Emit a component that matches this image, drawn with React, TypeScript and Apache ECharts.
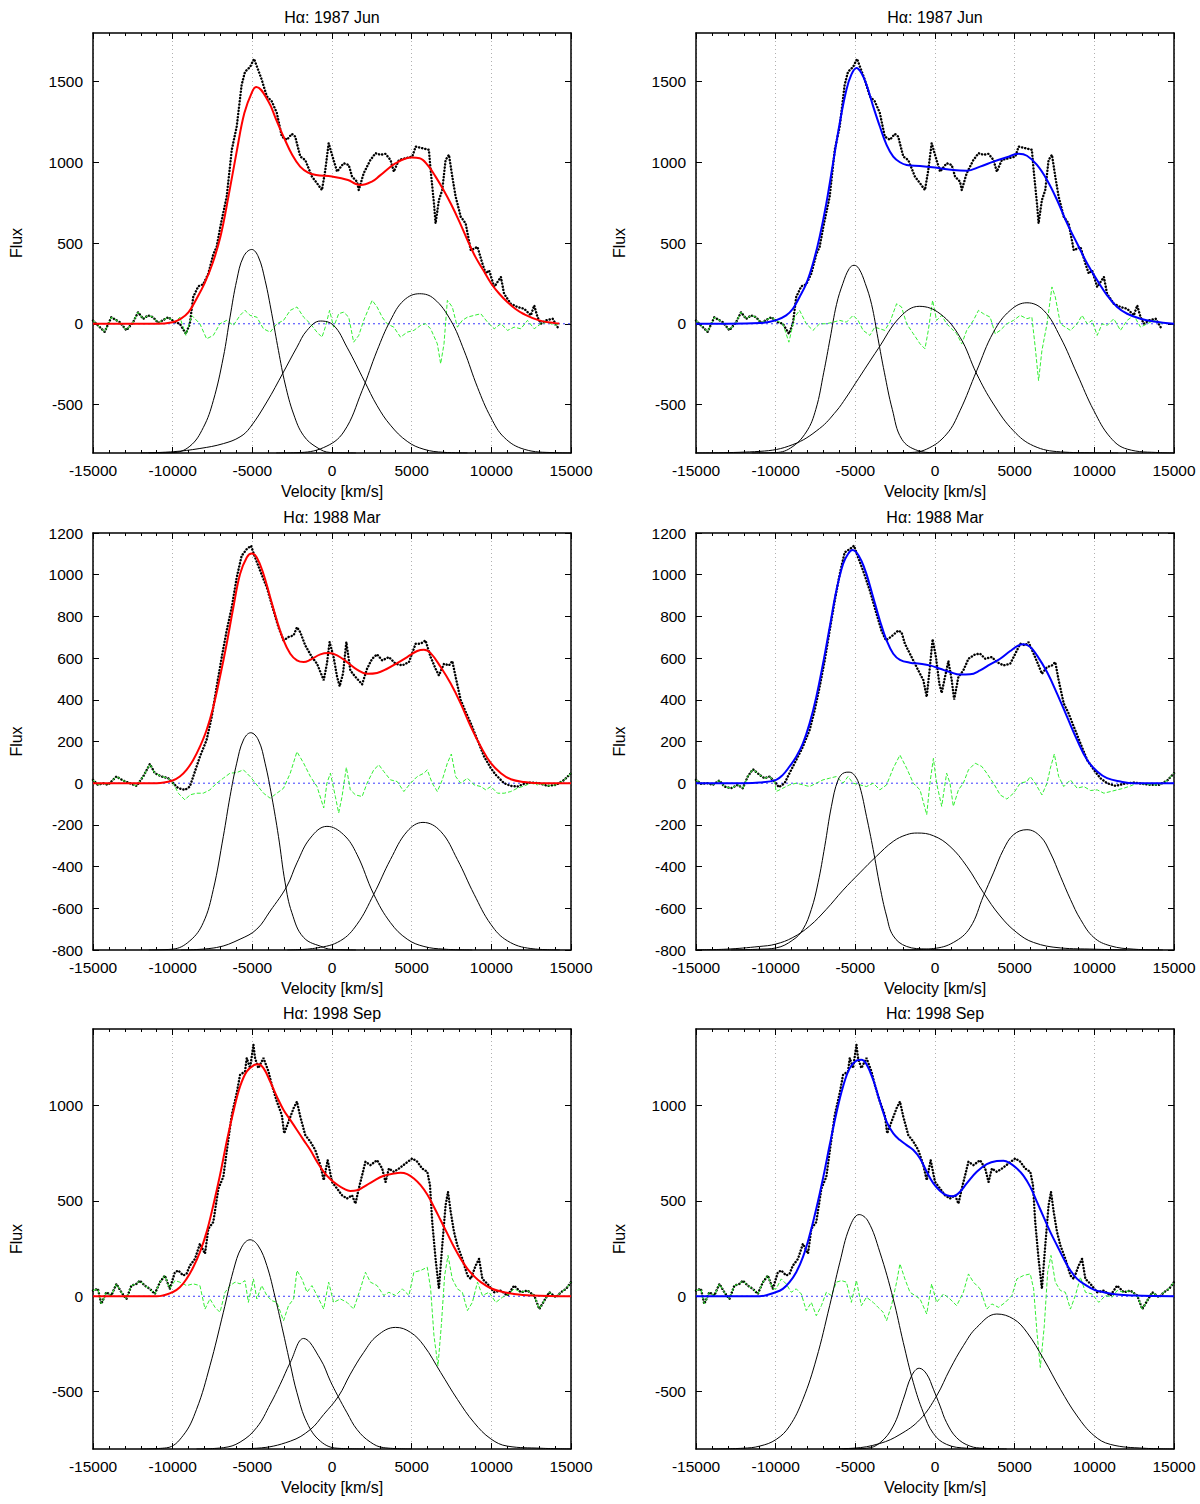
import { useEffect, useRef } from "react";
import * as echarts from "echarts";

const OBS_87 = [
  [-15000, 20], [-14270, -50], [-13850, 40], [-13320, 10], [-12900, -40], [-12480, 10], [-12170, 72], [-11850, 30],
  [-11540, 52], [-11220, 40], [-10910, 5], [-10280, 41], [-9860, 10], [-9550, 0], [-9170, -62], [-8920, 0],
  [-8710, 166], [-8390, 232], [-8080, 244], [-7760, 311], [-7450, 430], [-7240, 476], [-7010, 600], [-6610, 787],
  [-6290, 1077], [-5980, 1221], [-5670, 1480], [-5460, 1560], [-5140, 1590], [-4890, 1640], [-4720, 1594], [-4410, 1511],
  [-4090, 1408], [-3780, 1377], [-3460, 1304], [-3150, 1159], [-2830, 1139], [-2520, 1176], [-2310, 1159], [-1990, 1035],
  [-1680, 1014], [-1260, 911], [-940, 870], [-630, 828], [-420, 952], [-210, 1118], [0, 1046], [320, 942],
  [730, 994], [1050, 983], [1260, 911], [1570, 880], [1680, 828], [1990, 932], [2410, 1014], [2730, 1056],
  [3040, 1046], [3360, 1052], [3670, 1014], [3880, 942], [4200, 1014], [4620, 1025], [5040, 1035], [5250, 1097],
  [5670, 1087], [6080, 1077], [6190, 952], [6400, 745], [6500, 621], [6710, 766], [6920, 828], [7130, 1014],
  [7340, 1046], [7550, 911], [7760, 787], [8080, 663], [8390, 621], [8710, 455], [9130, 476], [9440, 373],
  [9650, 311], [9860, 331], [10180, 228], [10600, 290], [10800, 186], [11220, 124], [11640, 104], [12060, 93],
  [12480, 52], [12690, 114], [12900, 41], [13110, 0], [13430, 21], [13850, 31], [14160, -21],
];

const OBS_88_L = [
  [-15000, 16], [-14690, -8], [-14370, 0], [-14060, -8], [-13530, 32], [-13110, 13], [-12690, 0], [-12270, -13],
  [-11850, 32], [-11430, 92], [-11120, 48], [-10700, 32], [-10280, 24], [-9970, 0], [-9650, -24], [-9230, -32],
  [-8920, -16], [-8710, 32], [-8290, 127], [-7870, 207], [-7550, 318], [-7240, 462], [-6920, 605], [-6610, 732],
  [-6290, 844], [-5980, 987], [-5670, 1091], [-5350, 1123], [-5080, 1139], [-4830, 1083], [-4510, 1019], [-4090, 939],
  [-3670, 828], [-3360, 748], [-3040, 685], [-2730, 701], [-2410, 709], [-2200, 748], [-1990, 724], [-1680, 661],
  [-1260, 605], [-940, 573], [-520, 494], [-320, 573], [-150, 677], [100, 605], [320, 510], [480, 465],
  [690, 525], [900, 677], [1150, 541], [1470, 510], [1890, 474], [2200, 549], [2520, 597], [2830, 618],
  [3150, 589], [3570, 605], [3990, 573], [4410, 565], [4830, 581], [5250, 669], [5560, 669], [5870, 685],
  [6190, 605], [6500, 549], [6710, 517], [7030, 573], [7340, 565], [7550, 586], [7760, 510], [8080, 398],
  [8390, 342], [8710, 287], [9130, 207], [9550, 127], [9970, 72], [10280, 40], [10800, 0], [11220, -13],
  [11640, -16], [12060, -3], [12480, 3], [13010, 0], [13530, -13], [14060, -8], [14580, 16], [15000, 48],
];

const OBS_88_R = [
  [-15000, 16], [-14690, -3], [-14270, 0], [-13950, -8], [-13530, 13], [-13220, -16], [-12800, -24], [-12380, -8],
  [-12060, -24], [-11750, 32], [-11430, 67], [-11010, 40], [-10700, 24], [-10390, 32], [-10070, 8], [-9800, -19],
  [-9440, 0], [-9130, 48], [-8710, 111], [-8290, 175], [-7870, 255], [-7550, 350], [-7240, 462], [-6920, 589],
  [-6610, 732], [-6290, 876], [-5980, 1003], [-5670, 1107], [-5350, 1123], [-5080, 1139], [-4830, 1083], [-4510, 1019],
  [-4090, 924], [-3670, 812], [-3360, 732], [-3080, 685], [-2730, 704], [-2310, 732], [-2100, 724], [-1890, 669],
  [-1470, 605], [-1050, 541], [-730, 494], [-520, 414], [-320, 557], [-150, 691], [60, 605], [270, 478],
  [420, 433], [630, 510], [840, 586], [1050, 494], [1200, 401], [1470, 510], [1780, 541], [2100, 597],
  [2520, 618], [2830, 621], [3150, 597], [3570, 605], [3880, 581], [4300, 565], [4720, 573], [5040, 621],
  [5350, 669], [5660, 661], [5870, 677], [6190, 621], [6500, 565], [6710, 525], [7030, 557], [7340, 565],
  [7550, 581], [7760, 494], [8080, 382], [8390, 334], [8710, 271], [9130, 191], [9550, 111], [9970, 64],
  [10380, 24], [10800, 0], [11330, -13], [11850, -3], [12480, 3], [13010, -3], [13530, -8], [14060, -8],
  [14580, 13], [15000, 48],
];

const OBS_98 = [
  [-15000, 30], [-14690, 39], [-14480, -40], [-14160, 21], [-13850, 4], [-13530, 65], [-13220, 21], [-12900, -14],
  [-12590, 56], [-12270, 65], [-12060, 82], [-11750, 56], [-11430, 39], [-11120, 12], [-10800, 74], [-10490, 109],
  [-10180, 39], [-9860, 126], [-9650, 135], [-9340, 109], [-9130, 117], [-8920, 161], [-8600, 196], [-8290, 275],
  [-7970, 223], [-7760, 354], [-7450, 389], [-7130, 564], [-6820, 626], [-6610, 757], [-6290, 950], [-5980, 1064],
  [-5770, 1160], [-5460, 1178], [-5350, 1248], [-5140, 1195], [-4930, 1318], [-4830, 1248], [-4620, 1195], [-4300, 1248],
  [-3990, 1178], [-3780, 1108], [-3460, 1020], [-3150, 950], [-3000, 853], [-2730, 914], [-2410, 985], [-2200, 1020],
  [-1990, 941], [-1680, 845], [-1360, 810], [-1050, 766], [-730, 687], [-520, 608], [-270, 713], [0, 599],
  [320, 564], [630, 529], [940, 512], [1260, 529], [1470, 485], [1680, 564], [1890, 634], [2100, 705],
  [2410, 687], [2830, 713], [3150, 669], [3360, 599], [3570, 669], [3880, 652], [4200, 669], [4620, 696],
  [5040, 722], [5350, 705], [5660, 669], [5980, 652], [6150, 582], [6290, 389], [6500, 196], [6710, 39],
  [6920, 266], [7130, 477], [7280, 547], [7450, 442], [7660, 336], [7870, 266], [8180, 196], [8500, 109],
  [8710, 91], [9020, 161], [9230, 196], [9440, 91], [9760, 65], [10180, 21], [10600, 30], [11010, 4],
  [11430, 56], [11850, 21], [12270, 30], [12690, 4], [13010, -67], [13320, -23], [13640, 21], [14060, -5],
  [14370, 21], [14690, 39], [15000, 74],
];

// fitted profiles
const FIT_87_L = [
  [-15000, 0], [-11000, 0], [-10000, 10], [-9500, 30], [-9000, 72], [-8500, 155], [-8000, 250], [-7500, 373],
  [-7000, 540], [-6500, 787], [-6000, 1056], [-5500, 1304], [-5000, 1439], [-4750, 1466], [-4000, 1377], [-3500, 1263],
  [-3000, 1149], [-2500, 1046], [-2000, 973], [-1500, 936], [-1000, 921], [0, 911], [1000, 890], [1500, 865],
  [1800, 859], [2500, 880], [3000, 917], [4000, 994], [5000, 1029], [5500, 1025], [6000, 983], [6500, 911],
  [7000, 828], [7500, 735], [8000, 631], [8500, 518], [9000, 414], [9500, 331], [10000, 248], [10500, 186],
  [11000, 135], [11500, 93], [12000, 62], [13000, 21], [14000, 4], [14270, 2],
];
const FIT_87_R = [
  [-15000, 0], [-13000, 0], [-11000, 4], [-10000, 21], [-9340, 52], [-8920, 93], [-8500, 166], [-8080, 248],
  [-7660, 373], [-7240, 538], [-6820, 745], [-6400, 994], [-5980, 1242], [-5560, 1449], [-5250, 1542], [-4930, 1584],
  [-4620, 1553], [-4300, 1480], [-3880, 1346], [-3460, 1221], [-3040, 1108], [-2620, 1035], [-2200, 1000], [-1780, 983],
  [-940, 977], [0, 967], [1150, 952], [1990, 948], [2830, 973], [3670, 1004], [4510, 1031], [5250, 1052],
  [5770, 1040], [6400, 983], [7030, 890], [7660, 766], [8290, 621], [8920, 497], [9550, 373], [10180, 269],
  [10800, 176], [11430, 104], [12060, 62], [12900, 31], [13740, 14], [15000, 0],
];
const FIT_88_L = [
  [-15000, 0], [-11000, 0], [-10000, 13], [-9550, 32], [-9130, 64], [-8710, 111], [-8290, 175], [-7870, 255],
  [-7450, 366], [-7030, 510], [-6610, 669], [-6190, 844], [-5770, 1003], [-5350, 1083], [-5040, 1102], [-4720, 1083],
  [-4300, 1003], [-3880, 892], [-3460, 780], [-3040, 685], [-2620, 621], [-2200, 589], [-1780, 581], [-1360, 592],
  [-730, 618], [-210, 624], [320, 613], [940, 581], [1570, 545], [2200, 525], [2830, 529], [3460, 549],
  [4090, 576], [4720, 605], [5350, 634], [5770, 640], [6190, 624], [6820, 557], [7450, 478], [8080, 382],
  [8710, 271], [9340, 175], [9970, 96], [10600, 48], [11220, 19], [12060, 6], [13110, 0], [15000, 0],
];
const FIT_88_R = [
  [-15000, 0], [-12000, 0], [-11010, 3], [-9970, 16], [-9550, 40], [-9130, 80], [-8710, 127], [-8290, 191],
  [-7870, 287], [-7450, 414], [-7030, 573], [-6610, 748], [-6190, 924], [-5770, 1051], [-5460, 1099], [-5180, 1118],
  [-4930, 1107], [-4620, 1067], [-4300, 1003], [-3880, 892], [-3460, 780], [-3040, 685], [-2620, 621], [-2200, 592],
  [-1570, 578], [-940, 573], [-320, 565], [320, 549], [940, 533], [1570, 521], [2200, 522], [2830, 541],
  [3460, 570], [4090, 597], [4720, 634], [5250, 661], [5560, 666], [5980, 653], [6400, 613], [7030, 533],
  [7660, 430], [8290, 318], [8920, 207], [9550, 111], [10180, 56], [10800, 24], [11640, 8], [12480, 0], [15000, 0],
];
const FIT_98_L = [
  [-15000, 0], [-11000, 0], [-10010, 21], [-9550, 47], [-9130, 91], [-8710, 152], [-8290, 231], [-7870, 336],
  [-7450, 477], [-7030, 634], [-6610, 810], [-6190, 967], [-5770, 1099], [-5350, 1178], [-4930, 1209], [-4620, 1216],
  [-4300, 1195], [-3880, 1125], [-3460, 1046], [-3040, 976], [-2620, 924], [-2200, 871], [-1780, 818], [-1360, 766],
  [-940, 705], [-520, 652], [-100, 613], [320, 585], [730, 564], [1150, 552], [1570, 555], [1990, 573],
  [2620, 605], [3250, 631], [3880, 643], [4300, 647], [4720, 640], [5140, 617], [5560, 582], [5980, 533],
  [6400, 468], [6820, 398], [7240, 328], [7660, 258], [8080, 196], [8500, 144], [8920, 105], [9340, 74],
  [9970, 42], [10600, 25], [11430, 12], [12480, 4], [15000, 0],
];
const FIT_98_R = [
  [-15000, 0], [-11000, 0], [-10010, 21], [-9550, 39], [-9130, 74], [-8710, 126], [-8290, 205], [-7870, 319],
  [-7450, 459], [-7030, 617], [-6610, 792], [-6190, 959], [-5770, 1099], [-5350, 1195], [-4930, 1234], [-4620, 1239],
  [-4300, 1216], [-3880, 1134], [-3460, 1020], [-3040, 915], [-2620, 853], [-2200, 818], [-1780, 792], [-1360, 766],
  [-940, 722], [-520, 652], [-100, 591], [320, 552], [730, 529], [1150, 524], [1570, 547], [1990, 591],
  [2620, 652], [3250, 692], [3880, 708], [4300, 710], [4720, 696], [5140, 669], [5560, 631], [5980, 573],
  [6400, 494], [6820, 415], [7240, 336], [7660, 266], [8080, 196], [8500, 135], [8920, 91], [9340, 65],
  [9970, 35], [10600, 21], [11430, 9], [12480, 4], [15000, 0],
];

// gaussian components (drawn offset by -800)
const G1_87_L = [
  [-11500, -800], [-10000, -798], [-8920, -758], [-8080, -643], [-7450, -476], [-6820, -207], [-6400, 41], [-5980, 269],
  [-5560, 414], [-5040, 460], [-4620, 414], [-4200, 269], [-3780, 62], [-3360, -166], [-2940, -373], [-2410, -559],
  [-1780, -693], [-940, -766], [-100, -797], [1500, -800],
];
const G2_87_L = [
  [-12000, -800], [-9970, -792], [-8290, -772], [-6820, -742], [-5770, -700], [-5140, -642], [-4090, -484], [-3080, -305],
  [-2200, -145], [-1570, -41], [-730, 17], [100, -10], [940, -145], [2040, -356], [2830, -507], [3670, -628],
  [4720, -728], [5770, -777], [7030, -796], [8500, -800],
];
const G3_87_L = [
  [-3500, -800], [-2200, -798], [-520, -766], [730, -670], [1890, -414], [2830, -166], [3670, 21], [4510, 145],
  [5500, 186], [6400, 155], [7450, 21], [8290, -166], [9130, -393], [9970, -580], [10810, -704], [12060, -777],
  [13950, -798], [15000, -800],
];
const G1_87_R = [
  [-11500, -800], [-10100, -798], [-9080, -770], [-8080, -670], [-7480, -530], [-6980, -300], [-6580, -90], [-6180, 120],
  [-5780, 250], [-5380, 342], [-5080, 362], [-4780, 342], [-4380, 250], [-3980, 120], [-3580, -90], [-3180, -300],
  [-2680, -530], [-2080, -715], [-1080, -785], [-80, -798], [1500, -800],
];
const G2_87_R = [
  [-15000, -800], [-11010, -790], [-8920, -748], [-7240, -648], [-6190, -540], [-5600, -460], [-4990, -368], [-3570, -155],
  [-2200, 41], [-990, 108], [320, 62], [1570, -83], [2620, -311], [3670, -497], [4930, -663], [6190, -756],
  [7870, -793], [9970, -799], [11500, -800],
];
const G3_87_R = [
  [-3000, -800], [-1780, -798], [-520, -776], [730, -683], [1570, -538], [2620, -290], [3670, -52], [4720, 83],
  [5770, 130], [6820, 83], [7870, -83], [8920, -311], [9970, -538], [11010, -704], [12060, -776], [14160, -798],
  [15000, -800],
];
const G1_88_L = [
  [-11500, -800], [-10010, -796], [-8920, -756], [-8080, -669], [-7450, -510], [-6820, -255], [-6400, -64], [-5980, 96],
  [-5560, 207], [-5100, 242], [-4620, 207], [-4200, 96], [-3780, -64], [-3360, -255], [-2940, -478], [-2520, -621],
  [-1780, -740], [-520, -788], [-100, -796], [1500, -800],
];
const G2_88_L = [
  [-9500, -800], [-7240, -788], [-5770, -748], [-4720, -700], [-3880, -613], [-2830, -494], [-2200, -382], [-1360, -263],
  [-320, -207], [730, -247], [1570, -342], [2620, -533], [3670, -669], [4720, -748], [5770, -783], [7030, -796],
  [8800, -800],
];
const G3_88_L = [
  [-2800, -800], [-940, -790], [520, -756], [1570, -677], [2620, -533], [3670, -366], [4720, -231], [5710, -188],
  [6820, -231], [7870, -366], [8920, -533], [9970, -677], [11010, -756], [12480, -793], [14300, -800],
];
const G1_88_R = [
  [-12800, -800], [-11010, -796], [-9970, -790], [-8920, -752], [-8290, -701], [-7760, -605], [-7340, -478], [-6920, -303],
  [-6500, -111], [-6080, 16], [-5670, 51], [-5390, 53], [-5040, 37], [-4720, -16], [-4300, -159], [-3880, -318],
  [-3460, -494], [-3040, -637], [-2620, -732], [-1780, -783], [-520, -796], [1000, -800],
];
const G2_88_R = [
  [-15000, -799], [-13110, -796], [-11010, -783], [-10010, -772], [-8920, -740], [-7870, -685], [-6820, -605], [-5770, -513],
  [-4720, -430], [-3670, -350], [-2620, -279], [-1780, -247], [-1110, -239], [-100, -252], [940, -303], [1990, -398],
  [3040, -525], [4090, -637], [5140, -717], [6190, -764], [7870, -790], [9970, -796], [12000, -800],
];
const G3_88_R = [
  [-2000, -800], [-100, -793], [1150, -764], [2200, -693], [3040, -541], [3670, -430], [4300, -318], [4930, -247],
  [5770, -223], [6610, -255], [7240, -334], [7870, -446], [8500, -557], [9130, -653], [9970, -740], [11010, -780],
  [12480, -796], [14300, -800],
];
const G1_98_L = [
  [-12000, -800], [-10390, -794], [-9340, -729], [-8500, -592], [-7660, -364], [-6820, -84], [-6190, 135], [-5670, 257],
  [-5140, 296], [-4620, 263], [-4090, 161], [-3570, -5], [-3040, -198], [-2620, -356], [-2200, -505], [-1570, -662],
  [-730, -759], [320, -796], [2000, -800],
];
const G2_98_L = [
  [-8500, -800], [-6820, -793], [-5770, -764], [-4720, -687], [-3880, -566], [-3250, -461], [-2620, -347], [-1780, -221],
  [-730, -329], [-100, -445], [360, -521], [940, -610], [1570, -698], [2410, -764], [3250, -793], [5000, -800],
];
const G3_98_L = [
  [-6500, -800], [-4720, -796], [-2620, -759], [-1360, -698], [-520, -619], [420, -522], [1150, -408], [1990, -294],
  [2830, -207], [3990, -163], [4930, -189], [5770, -259], [6820, -399], [7870, -540], [8920, -662], [9970, -747],
  [11010, -785], [13110, -796], [15000, -800],
];
const G1_98_R = [
  [-14000, -800], [-12060, -796], [-11010, -785], [-9970, -750], [-9130, -680], [-8290, -540], [-7450, -329], [-6610, -49],
  [-5980, 175], [-5350, 363], [-4760, 428], [-4200, 393], [-3460, 231], [-2620, -14], [-1990, -242], [-1360, -452],
  [-730, -610], [-100, -719], [730, -776], [1990, -796], [3500, -800],
];
const G2_98_R = [
  [-5800, -800], [-4300, -796], [-3460, -768], [-2620, -680], [-1990, -540], [-1470, -417], [-990, -377], [-520, -408],
  [-100, -487], [320, -575], [730, -662], [1360, -741], [2200, -785], [3040, -796], [4500, -800],
];
const G3_98_R = [
  [-7000, -800], [-5140, -796], [-3460, -771], [-2200, -724], [-940, -645], [100, -522], [940, -382], [1780, -259],
  [2620, -163], [3880, -93], [4930, -119], [5770, -189], [6820, -329], [7870, -487], [8920, -627], [9970, -729],
  [11010, -776], [13110, -796], [15000, -800],
];

// residuals (observed - fit) inside the line; outside they follow the observed wings
const RES_87_L = [
  [-9550, 41], [-9170, -72], [-8810, 52], [-8290, 0], [-7870, -93], [-7450, -72], [-7030, 0], [-6610, 21],
  [-6190, -10], [-5770, 52], [-5460, 83], [-5140, 52], [-4720, 41], [-4300, -31], [-3880, -52], [-3460, 0],
  [-3040, 21], [-2620, 83], [-2200, 104], [-1780, 41], [-1360, 0], [-940, -52], [-630, -83], [-420, -21],
  [-150, 83], [100, -21], [420, 62], [730, 72], [1050, 41], [1360, -114], [1680, -72], [1990, 21],
  [2520, 145], [2830, 104], [3150, 41], [3460, 0], [3880, -21], [4300, -83], [4720, -52], [5140, -41],
  [5560, -10], [5870, 0], [6190, -31], [6610, -124], [6820, -248], [7030, -124], [7240, 145], [7550, 104],
  [7870, -21], [8180, 21], [8500, 41], [8920, 52], [9340, 62], [9760, 10], [10180, -31], [10600, 0],
  [11020, -41], [11430, -21], [11850, -31], [12270, 21], [12690, -31], [13110, 0], [13530, 10], [13950, -10], [14270, 0],
];
const RES_87_R = [
  [-9970, 21], [-9550, 0], [-9170, -114], [-8810, 41], [-8500, 83], [-8080, 0], [-7660, -41], [-7240, 0],
  [-6820, 0], [-6400, 10], [-5980, 21], [-5560, 10], [-5140, 52], [-4830, 21], [-4510, -41], [-4090, -72],
  [-3780, -21], [-3460, -31], [-3150, -41], [-2830, 10], [-2410, 124], [-2100, 104], [-1780, 0], [-1360, -62],
  [-940, -124], [-630, -155], [-420, -41], [-150, 145], [100, 21], [420, 52], [730, 0], [1050, -31],
  [1360, -62], [1680, -124], [1990, -41], [2410, 21], [2730, 83], [3040, 62], [3460, 41], [3780, -62],
  [4090, -41], [4510, 0], [4930, 21], [5350, 52], [5770, 31], [6080, 41], [6290, -145], [6500, -352],
  [6710, -166], [7030, 0], [7340, 228], [7550, 166], [7870, 0], [8180, -21], [8500, -41], [8920, 0],
  [9230, 52], [9550, 0], [9860, 21], [10180, -72], [10490, 0], [10810, -10], [11220, 31], [11640, -41],
  [12060, 21], [12480, 52], [12900, -21], [13320, 0], [13740, 21], [14270, 0],
];
const RES_88_L = [
  [-9650, -48], [-9230, -80], [-8920, -56], [-8500, -48], [-8080, -48], [-7660, -32], [-7240, 0], [-6820, 24],
  [-6400, 48], [-5980, 51], [-5560, 64], [-5140, 32], [-4720, -8], [-4300, -48], [-3880, -72], [-3460, -48],
  [-3040, -24], [-2620, 48], [-2200, 151], [-1780, 96], [-1360, 32], [-940, -16], [-520, -119], [-320, 0],
  [-100, 48], [210, -64], [420, -143], [630, -64], [900, 76], [1150, -32], [1470, -56], [1890, -64],
  [2200, 0], [2620, 64], [2940, 88], [3250, 56], [3670, 16], [4090, 8], [4510, -40], [4930, 0],
  [5350, 32], [5770, 48], [5980, 64], [6290, 0], [6610, -40], [6920, 16], [7240, 96], [7490, 140],
  [7760, 32], [8080, 0], [8500, 24], [8920, -8], [9340, -16], [9650, -32], [9970, -16], [10390, -48],
  [10810, -48], [11220, -40], [11640, -24], [12060, -13], [12480, 0], [12900, -8],
];
const RES_88_R = [
  [-9970, -40], [-9550, -24], [-9130, -8], [-8710, 0], [-8290, -8], [-7870, -16], [-7450, 0], [-7030, 16],
  [-6610, 24], [-6190, 32], [-5770, 0], [-5460, 32], [-5140, 0], [-4720, -8], [-4300, -16], [-3880, 0],
  [-3460, -32], [-3040, -8], [-2620, 72], [-2200, 135], [-1780, 72], [-1360, 0], [-940, -32], [-520, -151],
  [-320, 0], [-100, 119], [100, 0], [420, -111], [730, 48], [940, 0], [1150, -111], [1470, -32],
  [1780, 0], [2100, 64], [2520, 96], [2940, 80], [3250, 48], [3670, 0], [4090, -56], [4510, -76],
  [4930, -48], [5350, 0], [5770, 8], [5980, 32], [6290, 0], [6710, -56], [7030, 0], [7240, 72],
  [7490, 140], [7760, 32], [8080, -16], [8500, 16], [8920, -24], [9340, -16], [9760, -35], [10180, -32],
  [10600, -48], [11020, -40], [11430, -32], [11850, -24], [12270, -13], [12690, 0],
];
const RES_98_L = [
  [-9860, 82], [-9550, 74], [-9130, 56], [-8710, 65], [-8290, 56], [-7970, -67], [-7660, -14], [-7340, -58],
  [-7030, -84], [-6710, 21], [-6400, 56], [-6080, 74], [-5770, 65], [-5460, 82], [-5250, -32], [-4930, 91],
  [-4720, -14], [-4410, 56], [-4090, 4], [-3780, -23], [-3460, -32], [-3040, -128], [-2730, -49], [-2410, -14],
  [-2200, 135], [-1890, 91], [-1570, 21], [-1260, 56], [-940, 4], [-520, -67], [-210, 74], [100, -32],
  [530, -14], [940, -32], [1360, -67], [1780, 39], [2100, 126], [2410, 74], [2830, 56], [3250, 4],
  [3570, 21], [3990, 4], [4410, 39], [4830, 4], [5140, 126], [5560, 135], [5980, 152], [6190, 39],
  [6400, -207], [6650, -365], [6860, -154], [7070, 109], [7280, 214], [7550, 91], [7870, 39], [8180, 21],
  [8500, -75], [8810, -32], [9130, 74], [9440, 4], [9860, 21], [10280, -32], [10700, -5], [11120, 12], [11430, 39],
];
const RES_98_R = [
  [-9970, 39], [-9650, 91], [-9340, 65], [-9020, 21], [-8710, 39], [-8390, 12], [-8080, -75], [-7760, -32],
  [-7450, -102], [-7130, -49], [-6820, 21], [-6500, 4], [-6190, 74], [-5870, 82], [-5560, 74], [-5250, -32],
  [-4930, 82], [-4620, -49], [-4300, -5], [-3880, -32], [-3570, -58], [-3250, -84], [-3040, -128], [-2730, -49],
  [-2410, 74], [-2200, 170], [-1890, 91], [-1570, 21], [-1260, 4], [-940, -14], [-520, -93], [-210, 65],
  [100, -32], [530, 12], [940, -14], [1360, -49], [1780, 21], [2100, 117], [2410, 74], [2830, 39],
  [3250, -67], [3570, -40], [3990, -58], [4410, -32], [4830, 4], [5140, 91], [5560, 109], [5980, 117],
  [6190, 39], [6400, -189], [6610, -373], [6860, -154], [7070, 126], [7280, 214], [7550, 74], [7870, 30],
  [8180, 21], [8500, -67], [8810, 4], [9130, 100], [9440, 21], [9860, 12], [10280, -32], [10700, 4],
  [11120, -5], [11430, 30],
];

const ZERO_LINE = [[-15000, 0], [15000, 0]];
const X_TICKS = [-15000, -10000, -5000, 0, 5000, 10000, 15000];
const Y_TICKS_87 = [-500, 0, 500, 1000, 1500];
const Y_TICKS_88 = [-800, -600, -400, -200, 0, 200, 400, 600, 800, 1000, 1200];
const Y_TICKS_98 = [-500, 0, 500, 1000];
const TITLES = ["H\u03b1: 1987 Jun", "H\u03b1: 1988 Mar", "H\u03b1: 1998 Sep"];

const FONT = '"Liberation Sans", Arial, Helvetica, sans-serif';
const RED = "#ff0000";
const BLUE = "#0000ff";

const COL_LEFT = [93, 696];
const GRID_W = 478;
const ROW_TOP = [33, 533, 1029];
const ROW_H = [420, 417, 420];
const ROW_YMAX = [1800, 1200, 1400];

const PANELS = [
  { row: 0, col: 0, obs: OBS_87, fit: FIT_87_L, color: RED, comps: [G1_87_L, G2_87_L, G3_87_L], res: RES_87_L, ticks: Y_TICKS_87 },
  { row: 0, col: 1, obs: OBS_87, fit: FIT_87_R, color: BLUE, comps: [G1_87_R, G2_87_R, G3_87_R], res: RES_87_R, ticks: Y_TICKS_87 },
  { row: 1, col: 0, obs: OBS_88_L, fit: FIT_88_L, color: RED, comps: [G1_88_L, G2_88_L, G3_88_L], res: RES_88_L, ticks: Y_TICKS_88 },
  { row: 1, col: 1, obs: OBS_88_R, fit: FIT_88_R, color: BLUE, comps: [G1_88_R, G2_88_R, G3_88_R], res: RES_88_R, ticks: Y_TICKS_88 },
  { row: 2, col: 0, obs: OBS_98, fit: FIT_98_L, color: RED, comps: [G1_98_L, G2_98_L, G3_98_L], res: RES_98_L, ticks: Y_TICKS_98 },
  { row: 2, col: 1, obs: OBS_98, fit: FIT_98_R, color: BLUE, comps: [G1_98_R, G2_98_R, G3_98_R], res: RES_98_R, ticks: Y_TICKS_98 },
];

const axisLine = { show: true, onZero: false, lineStyle: { color: "#000", width: 1.5 } };
const tickStyle = { color: "#000", width: 1 };
const labelStyle = {
  color: "#000", fontFamily: FONT, fontSize: 15.5,
  formatter: (v: number) => String(v),
};

function buildOption() {
  const grid: any[] = [];
  const xAxis: any[] = [];
  const yAxis: any[] = [];
  const series: any[] = [];
  const graphic: any[] = [];

  PANELS.forEach((p, i) => {
    const left = COL_LEFT[p.col];
    const top = ROW_TOP[p.row];
    const h = ROW_H[p.row];
    grid.push({ left, top, width: GRID_W, height: h, containLabel: false });

    const xBase = {
      type: "value", gridIndex: i, min: -15000, max: 15000, interval: 5000,
      axisLine, axisTick: { inside: true, length: 6, lineStyle: tickStyle },
      minorTick: { show: true, splitNumber: 5, length: 3, lineStyle: tickStyle },
    };
    xAxis.push({
      ...xBase, position: "bottom",
      axisLabel: { ...labelStyle, margin: 9, customValues: X_TICKS },
      splitLine: { show: true, lineStyle: { color: "#b0b0b0", width: 1, type: [1, 3] } },
    });
    xAxis.push({ ...xBase, position: "top", axisLabel: { show: false }, splitLine: { show: false } });

    const yBase = {
      type: "value", gridIndex: i, min: -800, max: ROW_YMAX[p.row],
      axisLine, axisTick: { inside: true, length: 6, lineStyle: tickStyle, customValues: p.ticks },
      splitLine: { show: false },
    };
    yAxis.push({ ...yBase, position: "left", axisLabel: { ...labelStyle, margin: 10, customValues: p.ticks } });
    yAxis.push({ ...yBase, position: "right", axisLabel: { show: false } });

    const ax = { xAxisIndex: 2 * i, yAxisIndex: 2 * i, silent: true, symbol: "none", showSymbol: false };
    series.push({
      ...ax, type: "line", data: ZERO_LINE,
      lineStyle: { color: "#3a3aff", width: 1, type: [2, 3] },
    });
    series.push({
      ...ax, type: "line", data: p.obs,
      lineStyle: { color: "#000", width: 2.4, type: [0.2, 3], cap: "round" },
    });
    const first = p.res[0][0];
    const last = p.res[p.res.length - 1][0];
    const resid = [
      ...p.obs.filter((d) => d[0] < first),
      ...p.res,
      ...p.obs.filter((d) => d[0] > last),
    ];
    series.push({
      ...ax, type: "line", data: resid,
      lineStyle: { color: "#33ee33", width: 1, type: [4, 2] },
    });
    p.comps.forEach((c) => {
      series.push({ ...ax, type: "line", data: c, smooth: 0.4, lineStyle: { color: "#000", width: 1 } });
    });
    series.push({ ...ax, type: "line", data: p.fit, smooth: 0.4, lineStyle: { color: p.color, width: 2 } });

    const cx = left + GRID_W / 2;
    graphic.push({
      type: "text", x: cx, y: top - 16, silent: true,
      style: { text: TITLES[p.row], font: `16px ${FONT}`, fill: "#000", textAlign: "center", textVerticalAlign: "middle" },
    });
    graphic.push({
      type: "text", x: cx, y: top + h + 38, silent: true,
      style: { text: "Velocity [km/s]", font: `16px ${FONT}`, fill: "#000", textAlign: "center", textVerticalAlign: "middle" },
    });
    graphic.push({
      type: "text", x: left - 77, y: top + h / 2, rotation: Math.PI / 2, silent: true,
      style: { text: "Flux", font: `16px ${FONT}`, fill: "#000", textAlign: "center", textVerticalAlign: "middle" },
    });
  });

  return { animation: false, backgroundColor: "#fff", grid, xAxis, yAxis, series, graphic };
}

export default function App() {
  const chartRef = useRef<HTMLDivElement>(null);

  useEffect(() => {
    if (!chartRef.current) return;
    const chart = echarts.init(chartRef.current, null, { renderer: "svg" });
    chart.setOption(buildOption());
    return () => {
      chart.dispose();
    };
  }, []);

  return (
    <div
      ref={chartRef}
      style={{ position: "absolute", left: 0, top: 0, width: 1200, height: 1504, background: "#fff" }}
    />
  );
}
